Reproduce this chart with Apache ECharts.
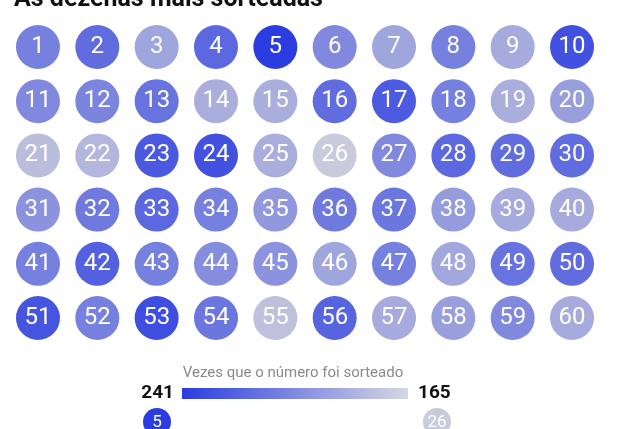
<!DOCTYPE html>
<html><head><meta charset="utf-8">
<script src="https://cdn.jsdelivr.net/npm/echarts@6/dist/echarts.min.js"></script>
<style>html,body{margin:0;padding:0;background:#fff}#c{width:617px;height:429px}</style>
</head><body><div id="c"></div>
<script>
// ---- data ----
const titleText = 'As dezenas mais sorteadas';
const legendTitle = 'Vezes que o número foi sorteado';
const numbers = Array.from({length: 60}, (_, i) => i + 1);
const counts = [
  205, 215, 185, 218, 241, 200, 185, 205, 182, 230,
  200, 202, 212, 180, 180, 215, 225, 205, 180, 188,
  172, 175, 226, 230, 180, 165, 200, 218, 215, 215,
  195, 208, 218, 205, 192, 208, 210, 190, 182, 182,
  205, 222, 205, 198, 195, 185, 205, 184, 212, 215,
  228, 205, 232, 210, 170, 220, 182, 188, 200, 182
];
const columns = 10;
const colorLow = '#c9cadc';
const colorHigh = '#2b3de0';

// ---- derived ----
const minCount = Math.min(...counts);
const maxCount = Math.max(...counts);
const minNumber = numbers[counts.indexOf(minCount)];
const maxNumber = numbers[counts.indexOf(maxCount)];
const rows = Math.ceil(numbers.length / columns);
const points = numbers.map((n, i) => [ (i % columns) + 1, Math.floor(i / columns) + 1, counts[i], n ]);

const chart = echarts.init(document.getElementById('c'), null, {renderer: 'canvas'});
const font = 'Roboto, "Noto Sans", sans-serif';
chart.setOption({
  animation: false,
  backgroundColor: '#ffffff',
  grid: {left: 8.3, right: 15.3, top: 19.9, bottom: 83.9},
  xAxis: {type: 'value', min: 0.5, max: columns + 0.5, show: false},
  yAxis: {type: 'value', min: 0.5, max: rows + 0.5, inverse: true, show: false},
  visualMap: {
    show: false, type: 'continuous', min: minCount, max: maxCount, dimension: 2,
    seriesIndex: 0, inRange: {color: [colorLow, colorHigh]}
  },
  series: [{
    type: 'scatter',
    symbol: 'circle',
    symbolSize: 44,
    data: points,
    itemStyle: {opacity: 1},
    label: {
      show: true, position: 'inside', formatter: p => String(p.value[3]),
      color: '#ffffff', fontSize: 24, fontFamily: font
    },
    emphasis: {disabled: true}
  }],
  graphic: [
    {type: 'text', left: 14, top: -13, style: {text: titleText, fill: '#111', font: 'bold 25px ' + font}},
    {type: 'text', x: 293, y: 373, style: {text: legendTitle, fill: '#8a8a8a', font: '15px ' + font, align: 'center', verticalAlign: 'middle'}},
    {type: 'rect', shape: {x: 182, y: 388, width: 226, height: 11},
      style: {fill: new echarts.graphic.LinearGradient(0, 0, 1, 0, [{offset: 0, color: colorHigh}, {offset: 1, color: '#d6d7e2'}])}},
    {type: 'text', x: 174, y: 393, style: {text: String(maxCount), fill: '#111', font: 'bold 19px ' + font, align: 'right', verticalAlign: 'middle'}},
    {type: 'text', x: 418, y: 393, style: {text: String(minCount), fill: '#111', font: 'bold 19px ' + font, align: 'left', verticalAlign: 'middle'}},
    {type: 'circle', shape: {cx: 157, cy: 422, r: 14}, style: {fill: colorHigh}},
    {type: 'text', x: 157, y: 423, style: {text: String(maxNumber), fill: '#fff', font: '17px ' + font, align: 'center', verticalAlign: 'middle'}},
    {type: 'circle', shape: {cx: 437, cy: 422, r: 14}, style: {fill: colorLow}},
    {type: 'text', x: 437, y: 423, style: {text: String(minNumber), fill: '#fff', font: '17px ' + font, align: 'center', verticalAlign: 'middle'}}
  ]
});
</script></body></html>
